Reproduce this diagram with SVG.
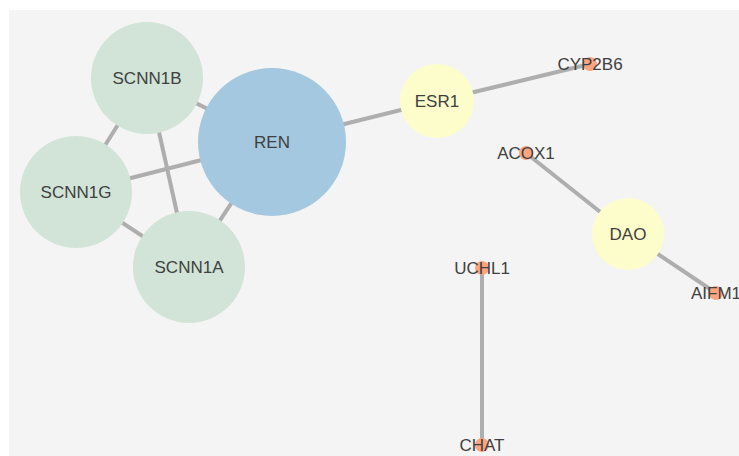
<svg xmlns="http://www.w3.org/2000/svg" width="739" height="456" viewBox="0 0 739 456">
  <style>
    .edge { stroke: #aeaeae; stroke-width: 4; fill: none; }
    .green { fill: #d1e4d7; }
    .blue { fill: #a3c8df; }
    .yellow { fill: #fdfdcb; }
    .orange { fill: #fca47d; }
    text { font-family: "Liberation Sans", Arial, sans-serif; fill: #404040; text-anchor: middle; dominant-baseline: central; font-size: 17px; }
  </style>
  <rect x="0" y="0" width="739" height="456" fill="#ffffff"/>
  <rect x="9" y="10" width="730" height="446" fill="#f4f4f4"/>

  <g id="edges">
    <line class="edge" x1="147" y1="78" x2="272" y2="142"/>
    <line class="edge" x1="147" y1="78" x2="76" y2="192"/>
    <line class="edge" x1="147" y1="78" x2="189" y2="267"/>
    <line class="edge" x1="76" y1="192" x2="272" y2="142"/>
    <line class="edge" x1="76" y1="192" x2="189" y2="267"/>
    <line class="edge" x1="189" y1="267" x2="272" y2="142"/>
    <line class="edge" x1="272" y1="142" x2="437" y2="101"/>
    <line class="edge" x1="437" y1="101" x2="590" y2="64"/>
    <line class="edge" x1="526" y1="153" x2="628" y2="234"/>
    <line class="edge" x1="628" y1="234" x2="716" y2="293"/>
    <line class="edge" x1="482" y1="268" x2="482" y2="445"/>
  </g>

  <g id="SCNN1B"><circle class="green" cx="147" cy="78" r="56"/><text x="147" y="78">SCNN1B</text></g>
  <g id="SCNN1G"><circle class="green" cx="76" cy="192" r="56"/><text x="76" y="192">SCNN1G</text></g>
  <g id="SCNN1A"><circle class="green" cx="189" cy="267" r="56"/><text x="189" y="267">SCNN1A</text></g>
  <g id="REN"><circle class="blue" cx="272" cy="142" r="74"/><text x="272" y="142">REN</text></g>
  <g id="ESR1"><circle class="yellow" cx="437" cy="101" r="37"/><text x="437" y="101">ESR1</text></g>
  <g id="DAO"><circle class="yellow" cx="628" cy="234" r="36"/><text x="628" y="234">DAO</text></g>
  <g id="CYP2B6"><circle class="orange" cx="590" cy="64" r="7"/><text x="590" y="64">CYP2B6</text></g>
  <g id="ACOX1"><circle class="orange" cx="526" cy="153" r="7"/><text x="526" y="153">ACOX1</text></g>
  <g id="AIFM1"><circle class="orange" cx="716" cy="293" r="7"/><text x="716" y="293">AIFM1</text></g>
  <g id="UCHL1"><circle class="orange" cx="482" cy="268" r="7"/><text x="482" y="268">UCHL1</text></g>
  <g id="CHAT"><circle class="orange" cx="482" cy="445" r="7"/><text x="482" y="445">CHAT</text></g>
</svg>
